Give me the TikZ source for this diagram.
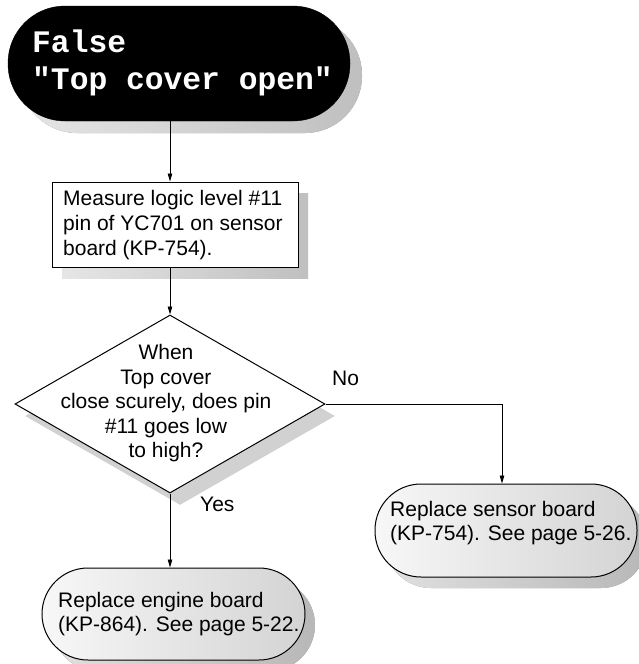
\documentclass[tikz,border=0pt]{standalone}
\usepackage{fontspec}
\setmainfont{Liberation Sans}
\newfontfamily\cour{Liberation Mono}
\usetikzlibrary{shapes.geometric,shadows,arrows.meta}
\tikzset{
  conn/.style={line width=0.8pt,-{Stealth[length=8pt,width=4.5pt,inset=0pt]}},
  shad/.style={drop shadow={shadow xshift=10pt,shadow yshift=-11pt,left color=black!12,right color=black!28,opacity=1}},
  term/.style={draw,line width=1pt,rectangle,rounded corners=#1,inner sep=0pt,shad,left color=black!3,right color=black!17},
  lab/.style={font=\fontsize{21}{24.5}\selectfont,inner sep=0pt},
}
\begin{document}
\begin{tikzpicture}[x=1pt,y=-1pt]
\useasboundingbox (0,0) rectangle (639,664);
% top terminator
\node[rectangle,rounded corners=57pt,fill=black,draw=black,minimum width=342pt,minimum height=115pt,inner sep=0pt,
  drop shadow={shadow xshift=12pt,shadow yshift=-12pt,left color=black!10,right color=black!25,opacity=1}] (top) at (179,63.5) {};
\node[anchor=west,align=left,text=white,inner sep=0pt,font=\cour\bfseries\fontsize{31.3}{37}\selectfont] (toptext) at (32,63) {False\\"Top cover open"};
% box
\node[draw,line width=1pt,fill=white,minimum width=246pt,minimum height=85pt,inner sep=0pt,
  drop shadow={shadow xshift=10pt,shadow yshift=-11pt,left color=black!10,right color=black!25,opacity=1}] (box) at (175,224.5) {};
\node[lab,anchor=west,align=left,font=\fontsize{21}{25}\selectfont] (boxtext) at (63,225) {Measure logic level \#11\\pin of YC701 on sensor\\board (KP-754).};
% diamond
\node[diamond,draw,line width=1pt,fill=white,minimum width=310pt,minimum height=178pt,inner sep=0pt,
  drop shadow={shadow xshift=10pt,shadow yshift=-12pt,fill=black!18,opacity=1}] (d) at (170,404) {};
\node[lab,align=center] (dtext) at (166,403.5) {When\\Top cover\\close scurely, does pin\\\#11 goes low\\to high?};
% right terminator
\node[term=46pt,minimum width=262pt,minimum height=93pt] (r) at (506,530.5) {};
\node[lab,anchor=west,align=left] (rtext) at (390,523) {Replace sensor board\\(KP-754). See page 5-26.};
% left terminator
\node[term=46pt,minimum width=263pt,minimum height=92pt] (l) at (173.5,614) {};
\node[lab,anchor=west,align=left] (ltext) at (58,614) {Replace engine board\\(KP-864). See page 5-22.};
% labels
\node[lab,anchor=west] (no) at (332,378) {No};
\node[lab,anchor=west] (yes) at (200,504) {Yes};
% connectors
\draw[conn] ([xshift=-9pt]top.south) -- ([xshift=-5pt]box.north);
\draw[conn] ([xshift=-5pt]box.south) -- (d.north);
\draw[conn] (d.east) -| ([xshift=-4pt]r.north);
\draw[conn] (d.south) -- ([xshift=-3.5pt]l.north);
\end{tikzpicture}
\end{document}
